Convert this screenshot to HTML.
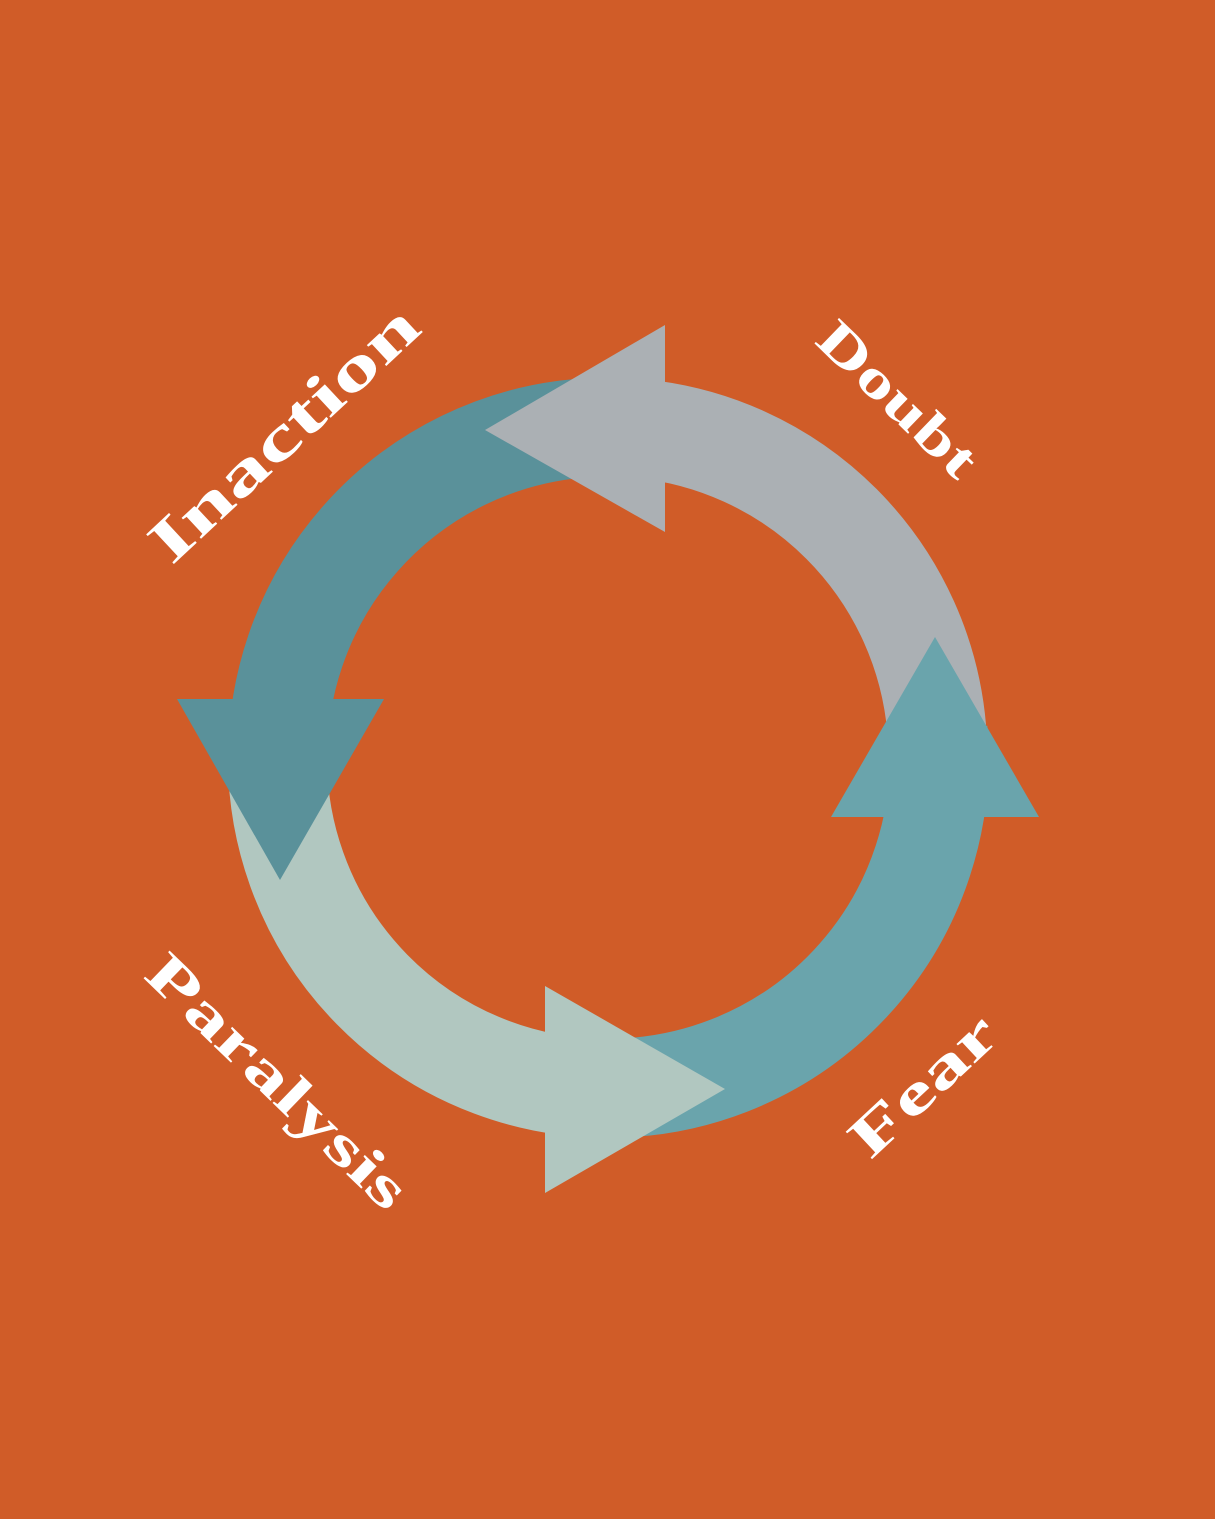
<!DOCTYPE html>
<html><head><style>html,body{margin:0;padding:0;background:#D05C28}svg{display:block}</style></head>
<body>
<svg width="1215" height="1519" viewBox="0 0 1215 1519" xmlns="http://www.w3.org/2000/svg">
<rect width="1215" height="1519" fill="#D05C28"/>
<g fill="none" stroke-width="99">
<path d="M 636.8 428.3 A 330 330 0 0 1 936.7 729" stroke="#ABB0B4"/>
<path d="M 579.2 428.3 A 330 330 0 0 0 278 770" stroke="#5A919A"/>
<path d="M 278 740 A 330 330 0 0 0 620 1088" stroke="#B1C7C0"/>
<path d="M 600 1088 A 330 330 0 0 0 938 730" stroke="#6AA4AC"/>
</g>
<polygon points="665,325 665,532 485,430" fill="#ABB0B4"/>
<polygon points="177,699 384,699 280,880" fill="#5A919A"/>
<polygon points="545,986 545,1193 725,1089" fill="#B1C7C0"/>
<polygon points="831,817 1039,817 935,637" fill="#6AA4AC"/>
<g fill="#fff" font-family="Liberation Serif, serif" font-weight="bold" text-anchor="middle" dominant-baseline="central">
<text x="0" y="0" font-size="62" textLength="345" lengthAdjust="spacingAndGlyphs" transform="translate(284,434) rotate(-43)">Inaction</text>
<text x="0" y="0" font-size="54" textLength="200" lengthAdjust="spacingAndGlyphs" transform="translate(898,399) rotate(44)">Doubt</text>
<text x="0" y="0" font-size="58" textLength="180" lengthAdjust="spacingAndGlyphs" transform="translate(923,1085) rotate(-43)">Fear</text>
<text x="0" y="0" font-size="58" textLength="340" lengthAdjust="spacingAndGlyphs" transform="translate(278,1081) rotate(44)">Paralysis</text>
</g>
</svg>
</body></html>
